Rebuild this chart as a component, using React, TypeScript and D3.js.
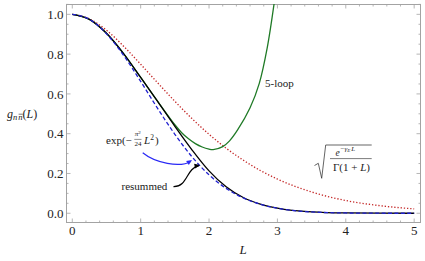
import React from 'react'
import * as d3 from 'd3'

// sample points
const lGrid = [0, 0.25, 0.5, 0.75, 1, 1.25, 1.5, 1.75, 2, 2.25, 2.5, 2.75, 3, 3.5, 4, 4.5, 5]
const resummed = [1, 0.975, 0.905, 0.803, 0.683, 0.561, 0.437, 0.319, 0.213, 0.133, 0.079, 0.046, 0.026, 0.007, 0.0015, 0.0002, 0]
const gaussian = [1, 0.975, 0.902, 0.794, 0.663, 0.526, 0.397, 0.284, 0.193, 0.125, 0.077, 0.045, 0.025, 0.0065, 0.0014, 0.0002, 0]
const sqrtGamma = [1, 0.977, 0.92, 0.84, 0.749, 0.655, 0.563, 0.476, 0.397, 0.327, 0.267, 0.215, 0.172, 0.107, 0.064, 0.038, 0.022]

const fiveLoopL = [0, 0.25, 0.5, 0.75, 1, 1.25, 1.5, 1.6, 1.7, 1.8, 1.9, 2.0, 2.06, 2.2, 2.3, 2.42, 2.6, 2.735, 2.85, 2.95, 3.05]
const fiveLoop = [1, 0.975, 0.905, 0.803, 0.683, 0.562, 0.445, 0.405, 0.374, 0.35, 0.333, 0.3225, 0.32, 0.335, 0.364, 0.42, 0.53, 0.653, 0.83, 1.05, 1.32]

const xTicks = [0, 1, 2, 3, 4, 5]
const xTickLabels = ['0', '1', '2', '3', '4', '5']
const yTicks = [0, 0.2, 0.4, 0.6, 0.8, 1.0]
const yTickLabels = ['0.0', '0.2', '0.4', '0.6', '0.8', '1.0']

const W = 425
const H = 261
const frame = { left: 66, right: 421, top: 4, bottom: 223 }
const serif = 'Liberation Serif, DejaVu Serif, serif'
const frameColor = '#a3a3a3'
const ink = '#222'

export default function App() {
  const x = d3.scaleLinear().domain([-0.092, 5.1]).range([frame.left, frame.right])
  const y = d3.scaleLinear().domain([-0.049, 1.052]).range([frame.bottom, frame.top])

  const line = d3.line<[number, number]>()
    .x((d) => x(d[0]))
    .y((d) => y(d[1]))
    .curve(d3.curveMonotoneX)
  const smooth = d3.line<[number, number]>()
    .x((d) => x(d[0]))
    .y((d) => y(d[1]))
    .curve(d3.curveCatmullRom.alpha(0.5))

  const zip = (xs: number[], ys: number[]) => xs.map((v, i) => [v, ys[i]] as [number, number])

  const xMinor = d3.range(0, 5.01, 0.2)
  const yMinor = d3.range(0, 1.051, 0.05)

  // annotation arrows (data units)
  const pt = (l: number, v: number) => `${x(l)},${y(v)}`
  const blueArrow = `M${pt(1.03, 0.304)} C${pt(1.21, 0.253)} ${pt(1.576, 0.227)} ${pt(1.735, 0.262)}`
  const blackArrow = `M${pt(1.48, 0.134)} C${pt(1.692, 0.132)} ${pt(1.663, 0.2275)} ${pt(1.85, 0.238)}`

  const head = (l1: number, v1: number, l2: number, v2: number, color: string) => {
    const x1 = x(l1), y1 = y(v1), x2 = x(l2), y2 = y(v2)
    const a = Math.atan2(y2 - y1, x2 - x1)
    const len = 5.5, w = 2.4
    const bx = x2 - len * Math.cos(a), by = y2 - len * Math.sin(a)
    const p = [
      [x2, y2],
      [bx + w * Math.sin(a), by - w * Math.cos(a)],
      [bx - w * Math.sin(a), by + w * Math.cos(a)],
    ]
    return <polygon points={p.map((q) => q.join(',')).join(' ')} fill={color} />
  }

  return (
    <svg width={W} height={H} style={{ position: 'absolute', left: 0, top: 0, background: '#fff', fontFamily: serif }}>
      <defs>
        <clipPath id="plotClip">
          <rect x={frame.left} y={frame.top} width={frame.right - frame.left} height={frame.bottom - frame.top} />
        </clipPath>
      </defs>

      {/* frame */}
      <rect x={frame.left + 0.5} y={frame.top + 0.5} width={frame.right - frame.left - 1} height={frame.bottom - frame.top - 1}
        fill="none" stroke={frameColor} strokeWidth={1} />

      {/* ticks, all pointing inside */}
      <g stroke={frameColor} strokeWidth={0.8}>
        {xMinor.map((t) => {
          const major = Math.abs(t - Math.round(t)) < 1e-6
          const len = major ? 4.5 : 2.5
          return (
            <g key={'x' + t}>
              <line x1={x(t)} x2={x(t)} y1={frame.bottom} y2={frame.bottom - len} />
              <line x1={x(t)} x2={x(t)} y1={frame.top} y2={frame.top + len} />
            </g>
          )
        })}
        {yMinor.map((t) => {
          const major = Math.abs(t * 5 - Math.round(t * 5)) < 1e-6
          const len = major ? 4.5 : 2.5
          return (
            <g key={'y' + t}>
              <line x1={frame.left} x2={frame.left + len} y1={y(t)} y2={y(t)} />
              <line x1={frame.right} x2={frame.right - len} y1={y(t)} y2={y(t)} />
            </g>
          )
        })}
      </g>

      {/* tick labels */}
      <g fontSize={13} fill={ink}>
        {xTicks.map((t, i) => (
          <text key={t} x={x(t)} y={235} textAnchor="middle">{xTickLabels[i]}</text>
        ))}
        {yTicks.map((t, i) => (
          <text key={t} x={63.5} y={y(t)} dy="0.36em" textAnchor="end">{yTickLabels[i]}</text>
        ))}
      </g>

      {/* axis labels */}
      <text x={243} y={254} fontSize={13} fontStyle="italic" textAnchor="middle" fill={ink}>L</text>
      <g fill={ink}>
        <text x={7} y={117.5} fontSize={12}>
          <tspan fontStyle="italic">g</tspan>
          <tspan fontSize={8.5} fontStyle="italic" dy={2.5}>n</tspan>
          <tspan fontSize={8.5} fontStyle="italic" dx={1}>n</tspan>
          <tspan dy={-2.5}>(</tspan>
          <tspan fontStyle="italic">L</tspan>
          <tspan>)</tspan>
        </text>
        <line x1={18.6} x2={22.8} y1={114.2} y2={114.2} stroke={ink} strokeWidth={0.6} />
      </g>

      {/* curves */}
      <g clipPath="url(#plotClip)" fill="none">
        <path d={line(zip(lGrid, sqrtGamma)) ?? ''} stroke="#c42a2a" strokeWidth={1.35} strokeDasharray="1.3,1.9" />
        <path d={smooth(zip(fiveLoopL, fiveLoop)) ?? ''} stroke="#1f7a26" strokeWidth={1.3} />
        <path d={line(zip(lGrid, resummed)) ?? ''} stroke="#000" strokeWidth={1.3} />
        <path d={line(zip(lGrid, gaussian)) ?? ''} stroke="#2121cf" strokeWidth={1.3} strokeDasharray="4,2.4" />
      </g>

      {/* annotations */}
      <text x={265} y={87} fontSize={11} fill={ink}>5-loop</text>
      <text x={121.5} y={189.5} fontSize={11} fill={ink}>resummed</text>

      <g fill={ink}>
        <text x={106} y={144} fontSize={11}>exp(−</text>
        <text x={137.7} y={136.3} fontSize={7} textAnchor="middle">
          <tspan fontStyle="italic">π</tspan><tspan fontSize={5} dy={-2.5}>2</tspan>
        </text>
        <line x1={134.3} x2={141.5} y1={139.4} y2={139.4} stroke={ink} strokeWidth={0.5} />
        <text x={137.9} y={145.5} fontSize={7} textAnchor="middle">24</text>
        <text x={144} y={144} fontSize={11}>
          <tspan fontStyle="italic">L</tspan>
          <tspan fontSize={7.5} dy={-4.5}>2</tspan>
          <tspan dy={4.5} dx={1}>)</tspan>
        </text>
      </g>

      <g fill={ink}>
        <path d="M314.5,165.5 L318.3,163.3 L321.7,178.3 L325.7,145 L371.7,145" fill="none" stroke={ink} strokeWidth={0.7} />
        <text x={335.5} y={155.5} fontSize={9.5} fontStyle="italic">e</text>
        <text x={340.6} y={151} fontSize={7}>
          −<tspan fontStyle="italic">γ</tspan><tspan fontSize={5} fontStyle="italic" dy={1.2}>E</tspan><tspan fontStyle="italic" dy={-1.2} dx={0.8}>L</tspan>
        </text>
        <line x1={330} x2={371.7} y1={158.6} y2={158.6} stroke={ink} strokeWidth={0.6} />
        <text x={351.5} y={170.5} fontSize={11} textAnchor="middle">
          Γ(1 + <tspan fontStyle="italic">L</tspan>)
        </text>
      </g>

      <path d={blueArrow} fill="none" stroke="#2a2af5" strokeWidth={1.2} />
      {head(1.576, 0.227, 1.751, 0.268, '#2a2af5')}
      <path d={blackArrow} fill="none" stroke="#000" strokeWidth={1.2} />
      {head(1.663, 0.2275, 1.868, 0.2425, '#000')}
    </svg>
  )
}
